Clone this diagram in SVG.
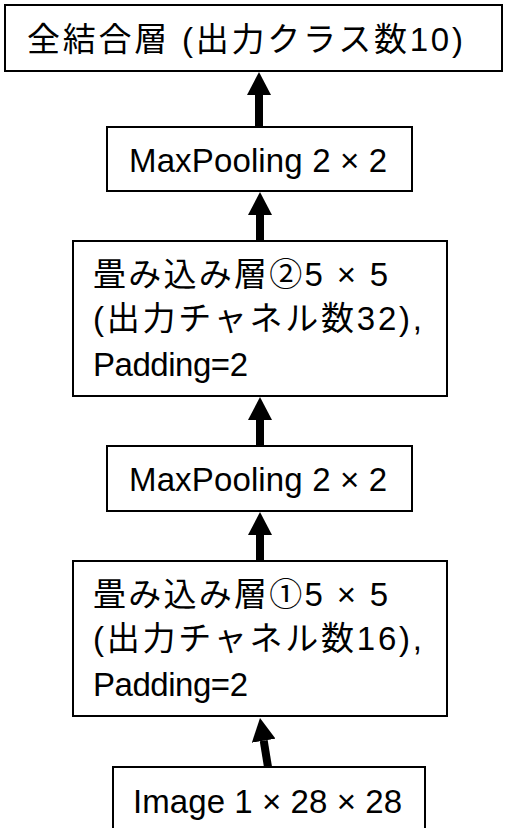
<svg xmlns="http://www.w3.org/2000/svg" width="506" height="828" viewBox="0 0 506 828">
<defs>
<style>
.box{fill:#fff;stroke:#000;stroke-width:2}
.t{font-family:"Liberation Sans","Noto Sans CJK JP",sans-serif;font-size:33px;fill:#000}
.shaft{stroke:#000;stroke-width:8;fill:none;marker-end:url(#ah)}
</style>
<marker id="ah" viewBox="0 0 23 24" refX="0" refY="12" markerWidth="23" markerHeight="24" markerUnits="userSpaceOnUse" orient="auto">
<path d="M0,0 L23,12 L0,24 z" fill="#000"/>
</marker>
</defs>
<rect width="506" height="828" fill="#fff"/>
<g id="connectors">
<line class="shaft" x1="259" y1="127" x2="259" y2="95"/>
<line class="shaft" x1="260" y1="241" x2="260" y2="215"/>
<line class="shaft" x1="260" y1="446" x2="260" y2="420"/>
<line class="shaft" x1="260" y1="561" x2="260" y2="535"/>
<line class="shaft" x1="268" y1="767" x2="263.7" y2="740.7"/>
</g>
<g id="fc">
<rect class="box" x="5" y="5" width="497" height="66"/>
<text class="t" x="27" y="51" textLength="436" lengthAdjust="spacing">全結合層 (出力クラス数10)</text>
</g>
<g id="pool2">
<rect class="box" x="107" y="127" width="305" height="64"/>
<text class="t" x="129" y="172" textLength="258" lengthAdjust="spacing">MaxPooling 2 × 2</text>
</g>
<g id="conv2">
<rect class="box" x="73" y="241" width="374" height="155"/>
<text class="t" x="93" y="286" textLength="295" lengthAdjust="spacing">畳み込み層②5 × 5</text>
<text class="t" x="93" y="330" textLength="329" lengthAdjust="spacing">(出力チャネル数32),</text>
<text class="t" x="93" y="376" textLength="155" lengthAdjust="spacing">Padding=2</text>
</g>
<g id="pool1">
<rect class="box" x="107" y="446" width="305" height="65"/>
<text class="t" x="129" y="491" textLength="258" lengthAdjust="spacing">MaxPooling 2 × 2</text>
</g>
<g id="conv1">
<rect class="box" x="73" y="561" width="374" height="155"/>
<text class="t" x="93" y="606" textLength="295" lengthAdjust="spacing">畳み込み層①5 × 5</text>
<text class="t" x="93" y="650" textLength="329" lengthAdjust="spacing">(出力チャネル数16),</text>
<text class="t" x="93" y="696" textLength="155" lengthAdjust="spacing">Padding=2</text>
</g>
<g id="image">
<rect class="box" x="113" y="767" width="312" height="80"/>
<text class="t" x="133" y="813" textLength="269" lengthAdjust="spacing">Image 1 × 28 × 28</text>
</g>
</svg>
